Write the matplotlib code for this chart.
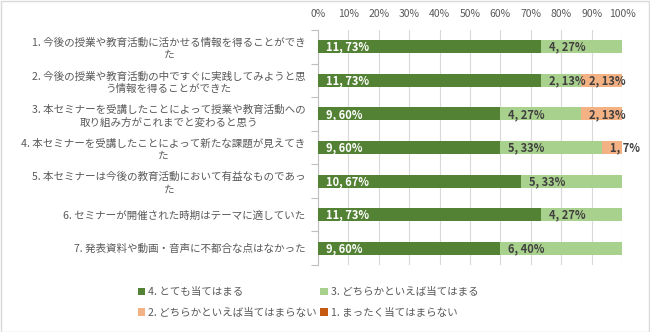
import matplotlib
matplotlib.use("Agg")
import matplotlib.pyplot as plt
from matplotlib.patches import Rectangle, Patch
import numpy as np

plt.rcParams['font.family'] = ['Noto Sans CJK JP', 'DejaVu Sans']

categories = [
    "1. 今後の授業や教育活動に活かせる情報を得ることができ\nた",
    "2. 今後の授業や教育活動の中ですぐに実践してみようと思\nう情報を得ることができた",
    "3. 本セミナーを受講したことによって授業や教育活動への\n取り組み方がこれまでと変わると思う",
    "4. 本セミナーを受講したことによって新たな課題が見えてき\nた",
    "5. 本セミナーは今後の教育活動において有益なものであっ\nた",
    "6. セミナーが開催された時期はテーマに適していた",
    "7. 発表資料や動画・音声に不都合な点はなかった",
]
series_names = ["4. とても当てはまる", "3. どちらかといえば当てはまる",
                "2. どちらかといえば当てはまらない", "1. まったく当てはまらない"]
counts_4 = [11, 11, 9, 9, 10, 11, 9]
counts_3 = [4, 2, 4, 5, 5, 4, 6]
counts_2 = [0, 2, 2, 1, 0, 0, 0]
counts_1 = [0, 0, 0, 0, 0, 0, 0]
total_n = 15
x_ticks = [0, 10, 20, 30, 40, 50, 60, 70, 80, 90, 100]

colors = ["#548235", "#A9D18E", "#F4B183", "#C55A11"]
label_colors = ["white", "#404040", "#404040", "#404040"]

fig = plt.figure(figsize=(6.5, 3.32), dpi=100)
ax = fig.add_axes([318/650, 1-265/332, 304/650, 235/332])

series = [counts_4, counts_3, counts_2, counts_1]
y = np.arange(len(categories))
left = np.zeros(len(categories))
for s, (vals, col, lc) in enumerate(zip(series, colors, label_colors)):
    pct = np.array(vals) / total_n * 100
    ax.barh(y, pct, left=left, height=0.39, color=col, zorder=3)
    for i, (v, p, l) in enumerate(zip(vals, pct, left)):
        if v > 0:
            ax.annotate(f"{v}, {round(p):d}%", xy=(l, y[i]), xytext=(8, -0.5),
                        textcoords='offset pixels', ha='left', va='center',
                        fontsize=8, fontweight='bold', color=lc, zorder=4)
    left = left + pct

ax.set_xlim(0, 100)
ax.set_ylim(len(categories) - 0.5, -0.5)
ax.set_xticks(x_ticks)
ax.set_xticklabels([f"{t}%" for t in x_ticks], fontsize=7.5, color="#595959")
ax.xaxis.tick_top()
ax.tick_params(axis='x', length=0, pad=8)
ax.grid(axis='x', color="#D9D9D9", linewidth=0.8, zorder=0)

ax.set_yticks(y)
ax.set_yticklabels(categories, fontsize=7.6, color="#595959",
                   multialignment='center', linespacing=1.3)
ax.tick_params(axis='y', which='major', length=0, pad=9)
ax.set_yticks(np.arange(-0.5, len(categories) + 0.5, 1), minor=True)
ax.tick_params(axis='y', which='minor', length=5, color="#BFBFBF", width=0.8)

for sp in ['top', 'right', 'bottom']:
    ax.spines[sp].set_visible(False)
ax.spines['left'].set_color("#BFBFBF")
ax.spines['left'].set_linewidth(0.8)

handles = [Patch(facecolor=c, edgecolor='none') for c in colors]
order = [0, 2, 1, 3]
fig.legend([handles[i] for i in order], [series_names[i] for i in order],
           ncol=2, loc='center', bbox_to_anchor=(0.474, 0.089), frameon=False,
           fontsize=7.6, labelcolor="#595959", handlelength=0.7, handleheight=0.7,
           handletextpad=0.3, columnspacing=0.3, labelspacing=1.0)

fig.add_artist(Rectangle((0.5/650, 0.5/332), 1 - 1.5/650, 1 - 1.5/332,
                         transform=fig.transFigure, fill=False,
                         edgecolor="#D9D9D9", linewidth=1))

fig.savefig("out.png", dpi=100)
